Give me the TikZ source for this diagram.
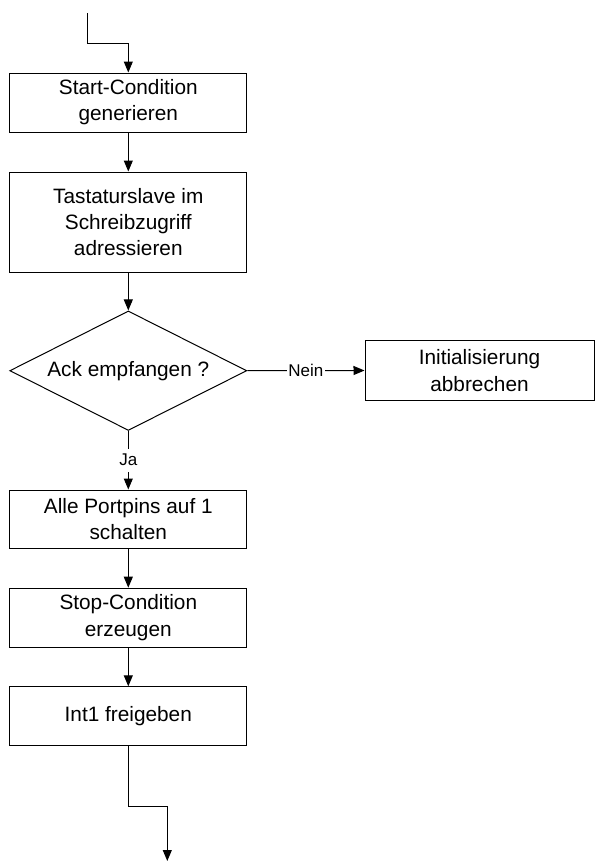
\documentclass[tikz,border=0pt]{standalone}
\usepackage{fontspec}
\setmainfont{Liberation Sans}
\usetikzlibrary{arrows.meta,shapes.geometric}
\begin{document}
\begin{tikzpicture}[x=1pt,y=-1pt,
  line width=1pt,
  flow/.style={draw,-{Triangle[length=11pt,width=9pt]}},
  procbox/.style={draw,rectangle,minimum width=237pt,inner sep=0pt,align=center,
    font=\fontsize{20.8}{26.2}\selectfont},
  decision/.style={draw,diamond,aspect=2,minimum width=237pt,minimum height=119.5pt,
    inner sep=0pt,font=\fontsize{20.8}{26.2}\selectfont},
  branchlabel/.style={fill=white,inner xsep=1.5pt,inner ysep=5.5pt,
    font=\fontsize{17}{20}\selectfont}]
  \useasboundingbox (0,0) rectangle (595,862);

  % process steps
  \node[procbox,minimum height=59pt] (b1) at (128.3,102.5) {Start-Condition\\generieren};
  \node[procbox,minimum height=100pt] (b2) at (128.3,222) {Tastaturslave im\\Schreibzugriff\\adressieren};
  \node[decision] (ack) at (128.3,370.7) {Ack empfangen ?};
  \node[procbox,minimum width=229pt,minimum height=59.5pt] (abort) at (479.5,370.5) {Initialisierung\\abbrechen};
  \node[procbox,minimum height=58pt] (b3) at (128.3,519) {Alle Portpins auf 1\\schalten};
  \node[procbox,minimum height=59pt] (b4) at (128.3,617.7) {Stop-Condition\\erzeugen};
  \node[procbox,minimum height=59pt] (b5) at (128.3,716.3) {Int1 freigeben};

  % entry and exit points
  \coordinate (in) at (87.3,13);
  \coordinate (out) at (167.3,861);

  % connectors
  \draw[flow] (in) -- ++(0,30.3) -| (b1.north);
  \draw[flow] (b1) -- (b2);
  \draw[flow] (b2) -- (ack);
  \draw[flow] (ack.east) -- node[branchlabel] {Nein} (abort.west);
  \draw[flow] (ack.south) -- node[branchlabel] {Ja} (b3.north);
  \draw[flow] (b3) -- (b4);
  \draw[flow] (b4) -- (b5);
  \draw[flow] (b5.south) -- ++(0,60) -| (out);
\end{tikzpicture}
\end{document}
